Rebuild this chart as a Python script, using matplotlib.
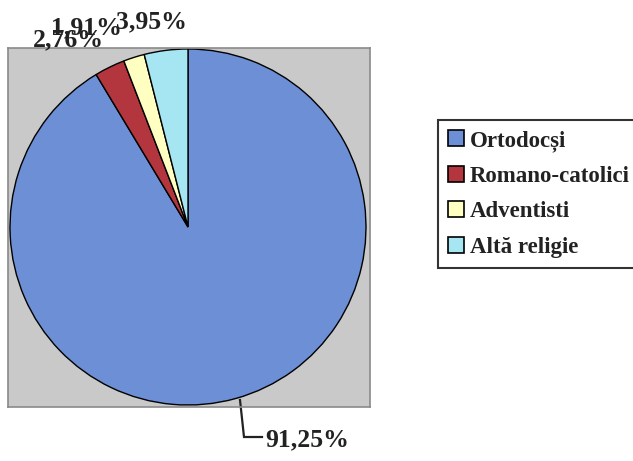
import matplotlib
matplotlib.use("Agg")
import matplotlib.pyplot as plt
from matplotlib.patches import Patch

categories = ["Ortodocși", "Romano-catolici", "Adventisti", "Altă religie"]
values = [91.25, 2.76, 1.91, 3.95]
labels = ["91,25%", "2,76%", "1,91%", "3,95%"]
colors = ["#6d8fd6", "#b3363f", "#ffffc2", "#a6e6f2"]

W, H = 633, 461
fig = plt.figure(figsize=(W / 100, H / 100), dpi=100)
fig.patch.set_facecolor("white")

x0, x1, y0, y1 = 8, 370, 48, 407
ax = fig.add_axes([x0 / W, 1 - y1 / H, (x1 - x0) / W, (y1 - y0) / H])

wedges, _ = ax.pie(values, colors=colors, startangle=90, counterclock=False,
                   wedgeprops=dict(edgecolor="black", linewidth=1.0),
                   radius=1.0)
cx, cy, r = 188, 227, 178
ax.set_xlim((x0 - cx) / r, (x1 - cx) / r)
ax.set_ylim((cy - y1) / r, (cy - y0) / r)
ax.set_aspect("auto")
ax.set_frame_on(True)
ax.patch.set_visible(True)
ax.set_facecolor("#c9c9c9")
ax.set_xticks([])
ax.set_yticks([])
for s in ax.spines.values():
    s.set_visible(True)
    s.set_color("#8a8a8a")
    s.set_linewidth(1.2)

font = dict(family="Liberation Serif", weight="bold", color="#222222")

def d(px, py):
    return ((px - cx) / r, (cy - py) / r)

# 91,25% with leader line
p_edge = d(240, 400)
p_bend = d(244, 437)
p_end = d(262, 437)
ax.plot([p_edge[0], p_bend[0], p_end[0]], [p_edge[1], p_bend[1], p_end[1]],
        color="#222222", lw=1.6, clip_on=False, solid_joinstyle="miter")
tx, ty = d(265, 440)
ax.text(tx, ty, labels[0], ha="left", va="center", fontsize=18.5, clip_on=False, **font)

for lab, (px, py) in zip(labels[1:], [(68, 40), (86, 28), (151, 22)]):
    tx, ty = d(px, py)
    ax.text(tx, ty, lab, ha="center", va="center", fontsize=18.5, clip_on=False, **font)

handles = [Patch(facecolor=c, edgecolor="black", linewidth=1.2) for c in colors]
leg = fig.legend(handles, categories, loc="upper left",
                 bbox_to_anchor=(438 / W, 1 - 120 / H),
                 prop=dict(family="Liberation Serif", weight="bold", size=16.5),
                 frameon=True, fancybox=False, handlelength=0.7, handleheight=0.7,
                 handletextpad=0.25, labelspacing=0.62, borderpad=0.45,
                 borderaxespad=0)
leg.get_frame().set_edgecolor("black")
leg.get_frame().set_linewidth(1.5)
for t in leg.get_texts():
    t.set_color("#222222")

fig.savefig("out.png", dpi=100)
